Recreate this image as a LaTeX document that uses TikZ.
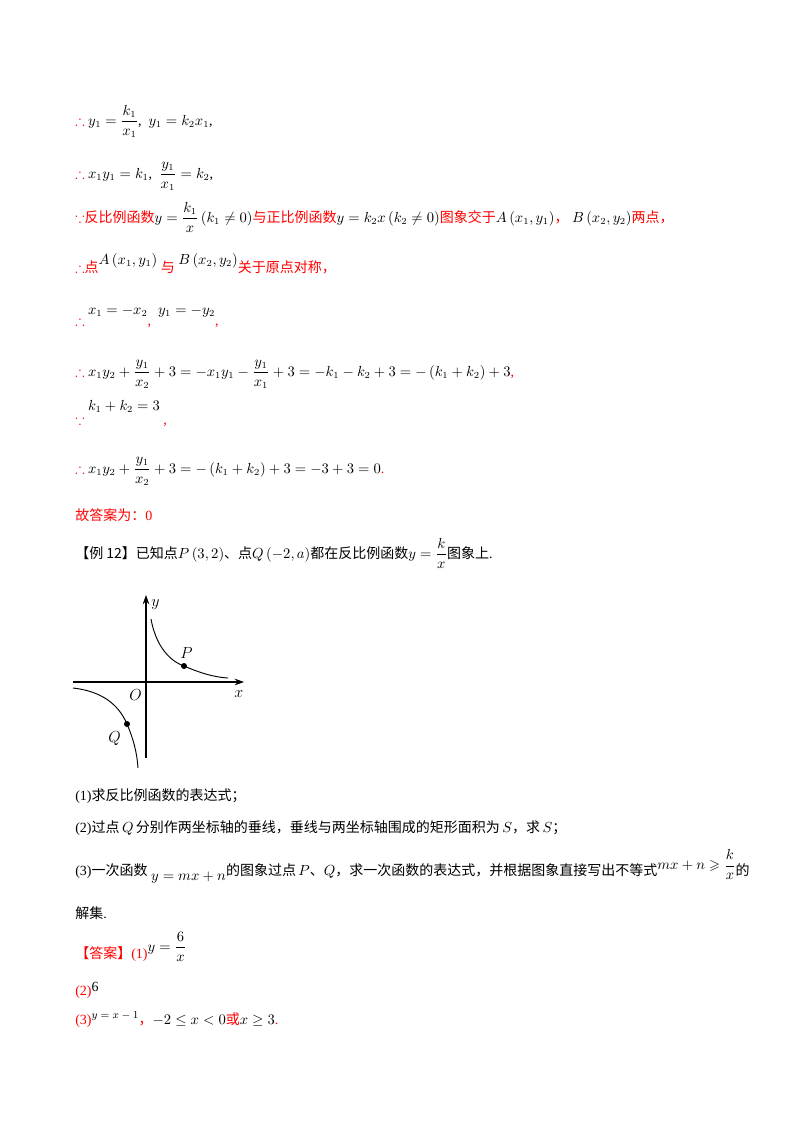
\documentclass[tikz,border=0pt]{standalone}
\usepackage{amsmath,amssymb}
\usepackage{fontspec}
\setmainfont{Liberation Serif}
\newfontfamily\cjk{Noto Sans CJK SC}
\usetikzlibrary{arrows.meta}
\definecolor{rd}{RGB}{255,0,0}
\begin{document}
\begin{tikzpicture}[x=0.75pt,y=-0.75pt,
  txt/.style={anchor=base west,inner sep=0pt,font=\fontsize{10.5}{12}\selectfont},
  red/.style={txt,text=rd},
  curve/.style={line width=0.7pt},
  pt/.style={circle,fill,inner sep=0pt,minimum size=4.5pt}]
\useasboundingbox[fill=white] (0,0) rectangle (800,1132);
\newcommand\cj[1]{{\cjk #1}}
\node[txt] (l1) at (75,125) {\textcolor{rd}{$\therefore$} $y_1=\dfrac{k_1}{x_1}$,\ \ $y_1=k_2x_1$,};
\node[txt] (l2) at (75,178) {\textcolor{rd}{$\therefore$} $x_1y_1=k_1$,\ \ $\dfrac{y_1}{x_1}=k_2$,};
\node[red] (l3) at (75,222) {$\because$\cj{反比例函数}\textcolor{black}{$y=\dfrac{k_1}{x}\left(k_1\neq0\right)$}\cj{与正比例函数}\textcolor{black}{$y=k_2x\left(k_2\neq0\right)$}\cj{图象交于}\textcolor{black}{$A\left(x_1,y_1\right)$}\cj{，}\ \textcolor{black}{$B\left(x_2,y_2\right)$}\cj{两点，}};
\node[red] (l4) at (75,272) {$\therefore$\cj{点}\raisebox{6pt}{\textcolor{black}{$A\left(x_1,y_1\right)$}}\ \cj{与}\ \raisebox{6pt}{\textcolor{black}{$B\left(x_2,y_2\right)$}}\cj{关于原点对称，}};
\node[txt] (l5) at (75,325) {\textcolor{rd}{$\therefore$}\raisebox{8pt}{\ $x_1=-x_2$}\textcolor{rd}{,}\ \ \raisebox{8pt}{$y_1=-y_2$}\textcolor{rd}{,}};
\node[txt] (l6) at (75,376) {\textcolor{rd}{$\therefore$} $x_1y_2+\dfrac{y_1}{x_2}+3=-x_1y_1-\dfrac{y_1}{x_1}+3=-k_1-k_2+3=-\left(k_1+k_2\right)+3$\textcolor{rd}{,}};
\node[txt] (l7) at (75,424) {\textcolor{rd}{$\because$}\raisebox{10pt}{\ $k_1+k_2=3$}\ \textcolor{rd}{,}};
\node[txt] (l8) at (75,473) {\textcolor{rd}{$\therefore$} $x_1y_2+\dfrac{y_1}{x_2}+3=-\left(k_1+k_2\right)+3=-3+3=0$\textcolor{rd}{.}};
\node[red] (l9) at (75,520) {\cj{故答案为：}0};
\node[txt] (l10) at (75,558) {\cj{【例 12】已知点}$P\left(3,2\right)$\cj{、点}$Q\left(-2,a\right)$\cj{都在反比例函数}$y=\dfrac{k}{x}$\cj{图象上}.};
% graph
\coordinate (xs) at (73,682);
\coordinate (xe) at (244,682);
\coordinate (ys) at (146,758);
\coordinate (ye) at (146,595);
\draw[line width=0.8pt,-{Stealth[length=7pt,width=5pt]}] (xs) -- (xe);
\draw[line width=0.8pt,-{Stealth[length=7pt,width=5pt]}] (ys) -- (ye);
\node[txt,font=\fontsize{12}{12}\selectfont] (ylab) at (151,606) {$y$};
\node[txt,font=\fontsize{12}{12}\selectfont] (xlab) at (234,697) {$x$};
\node[txt,font=\fontsize{12}{12}\selectfont] (olab) at (129,700) {$O$};
\draw[curve] (151,619) .. controls (157,652) and (175,663) .. (184,666) .. controls (198,672) and (212,677) .. (228,678);
\draw[curve] (73,688) .. controls (100,691) and (118,703) .. (127,724) .. controls (133,738) and (137,752) .. (138,768);
\node[pt] (P) at (184,666) {};
\node[pt] (Q) at (127,724) {};
\node[txt,font=\fontsize{12}{12}\selectfont] (plab) at (180,658) {$P$};
\node[txt,font=\fontsize{12}{12}\selectfont] (qlab) at (108,742) {$Q$};
\node[txt] (q1) at (75,800) {(1)\cj{求反比例函数的表达式；}};
\node[txt] (q2) at (75,832) {(2)\cj{过点}$\,Q\,$\cj{分别作两坐标轴的垂线，垂线与两坐标轴围成的矩形面积为}$\,S$\cj{，求}$\,S$\cj{；}};
\node[txt] (q3) at (75,875) {(3)\cj{一次函数}\ \raisebox{-4pt}{$y=mx+n$}\cj{的图象过点}$\,P$\cj{、}$Q$\cj{，求一次函数的表达式，并根据图象直接写出不等式}\raisebox{4pt}{$mx+n\geqslant\dfrac{k}{x}$}\cj{的}};
\node[txt] (q4) at (75,918) {\cj{解集}.};
\node[red] (a1) at (75,958) {\cj{【答案】}(1)\textcolor{black}{\raisebox{5pt}{$y=\dfrac{6}{x}$}}};
\node[red] (a2) at (75,995) {(2)\textcolor{black}{\raisebox{3pt}{6}}};
\node[red] (a3) at (75,1024) {(3)\textcolor{black}{\raisebox{4pt}{\footnotesize$y=x-1$}}\cj{，}\textcolor{black}{$-2\le x<0$}\cj{或}\textcolor{black}{$x\ge3$}.};
\end{tikzpicture}
\end{document}
